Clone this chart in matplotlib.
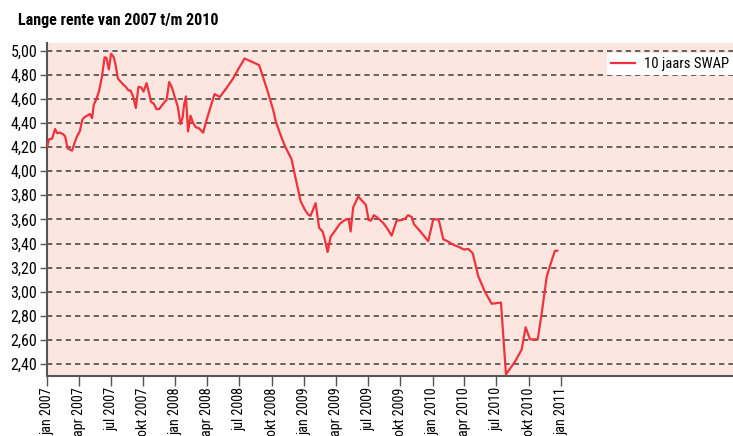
import numpy as np
import pandas as pd
import matplotlib
matplotlib.use('Agg')
import matplotlib.pyplot as plt
from matplotlib import font_manager
from matplotlib.ticker import FuncFormatter

# smalle letter als die er is
namen = {f.name for f in font_manager.fontManager.ttflist}
smal = [n for n in ['Liberation Sans Narrow', 'Roboto Condensed', 'Open Sans Condensed'] if n in namen]
plt.rcParams['font.family'] = smal + ['DejaVu Sans']
plt.rcParams['font.stretch'] = 'condensed'

# 10-jaars swaprente, tijd als decimaal jaartal
jaar = [2007.000, 2007.016, 2007.040, 2007.063, 2007.079, 2007.100, 2007.121, 2007.141,
        2007.160, 2007.178, 2007.195, 2007.216, 2007.234, 2007.255, 2007.276, 2007.294,
        2007.312, 2007.333, 2007.351, 2007.364, 2007.385, 2007.406, 2007.427, 2007.448,
        2007.463, 2007.481, 2007.499, 2007.520, 2007.536, 2007.551, 2007.572, 2007.592,
        2007.613, 2007.634, 2007.650, 2007.670, 2007.691, 2007.712, 2007.733, 2007.751,
        2007.775, 2007.795, 2007.810, 2007.831, 2007.852, 2007.873, 2007.894, 2007.915,
        2007.930, 2007.951, 2007.972, 2007.993, 2008.018, 2008.039, 2008.055, 2008.067,
        2008.081, 2008.098, 2008.117, 2008.137, 2008.158, 2008.184, 2008.215, 2008.246,
        2008.278, 2008.304, 2008.345, 2008.397, 2008.449, 2008.496, 2008.538, 2008.651,
        2008.709, 2008.760, 2008.781, 2008.818, 2008.851, 2008.877, 2008.903, 2008.937,
        2008.974, 2009.007, 2009.033, 2009.051, 2009.072, 2009.090, 2009.118, 2009.145,
        2009.163, 2009.184, 2009.207, 2009.241, 2009.280, 2009.318, 2009.347, 2009.363,
        2009.383, 2009.422, 2009.482, 2009.503, 2009.521, 2009.544, 2009.578, 2009.617,
        2009.648, 2009.682, 2009.721, 2009.760, 2009.786, 2009.811, 2009.838, 2009.856,
        2009.902, 2009.967, 2010.006, 2010.048, 2010.084, 2010.115, 2010.162, 2010.208,
        2010.245, 2010.278, 2010.313, 2010.356, 2010.408, 2010.461, 2010.533, 2010.572,
        2010.642, 2010.694, 2010.725, 2010.759, 2010.819, 2010.850, 2010.889, 2010.928,
        2010.953, 2010.971]
swap = [4.20, 4.265, 4.27, 4.35, 4.315, 4.32, 4.31, 4.29,
        4.19, 4.18, 4.17, 4.24, 4.29, 4.33, 4.43, 4.45,
        4.46, 4.475, 4.44, 4.55, 4.60, 4.67, 4.78, 4.945,
        4.94, 4.845, 4.975, 4.945, 4.87, 4.77, 4.745, 4.72,
        4.70, 4.67, 4.67, 4.62, 4.525, 4.70, 4.695, 4.66,
        4.73, 4.645, 4.575, 4.56, 4.515, 4.515, 4.545, 4.575,
        4.59, 4.74, 4.695, 4.62, 4.535, 4.39, 4.445, 4.55,
        4.62, 4.33, 4.46, 4.40, 4.365, 4.355, 4.32, 4.44,
        4.55, 4.64, 4.615, 4.69, 4.77, 4.86, 4.935, 4.88,
        4.69, 4.51, 4.41, 4.30, 4.21, 4.155, 4.10, 3.93,
        3.75, 3.68, 3.64, 3.63, 3.685, 3.735, 3.53, 3.50,
        3.43, 3.33, 3.455, 3.505, 3.565, 3.595, 3.605, 3.50,
        3.70, 3.79, 3.72, 3.595, 3.59, 3.635, 3.61, 3.57,
        3.525, 3.465, 3.59, 3.595, 3.605, 3.635, 3.62, 3.56,
        3.505, 3.42, 3.60, 3.60, 3.435, 3.42, 3.39, 3.37,
        3.35, 3.355, 3.32, 3.13, 3.00, 2.90, 2.91, 2.315,
        2.42, 2.52, 2.705, 2.605, 2.605, 2.82, 3.125, 3.26,
        3.34, 3.34]

tick_labels = ['jan 2007', 'apr 2007', 'jul 2007', 'okt 2007',
               'jan 2008', 'apr 2008', 'jul 2008', 'okt 2008',
               'jan 2009', 'apr 2009', 'jul 2009', 'okt 2009',
               'jan 2010', 'apr 2010', 'jul 2010', 'okt 2010',
               'jan 2011']
y_ticks = [2.4, 2.6, 2.8, 3.0, 3.2, 3.4, 3.6, 3.8, 4.0, 4.2, 4.4, 4.6, 4.8, 5.0]

start = pd.Timestamp('2007-01-01')
jaar = np.array(jaar)
datums = start + pd.to_timedelta((jaar - 2007) * 365.25, unit='D')
tick_pos = pd.date_range('2007-01-01', '2011-01-01', freq='QS')

fig = plt.figure(figsize=(7.33, 4.36), dpi=100)
ax = fig.add_axes([47 / 733, 60.5 / 436, 686 / 733, 332.8 / 436])
ax.set_facecolor('#fde6df')

for y in y_ticks:
    ax.axhline(y, color='#4a4a4a', lw=1.2, ls=(0, (3.2, 2.4)), zorder=1)

ax.plot(datums, swap, color='#f0323c', lw=1.6, label='10 jaars SWAP', zorder=3)

ax.set_ylim(2.305, 5.066)
ax.set_xlim(start, start + pd.Timedelta(days=1950))
ax.set_yticks(y_ticks)
ax.yaxis.set_major_formatter(FuncFormatter(lambda v, p: f'{v:.2f}'.replace('.', ',')))
ax.set_xticks(tick_pos)
ax.set_xticklabels(tick_labels, rotation=90, va='top', ha='center')

for s in ['top', 'right']:
    ax.spines[s].set_visible(False)
for s in ['left', 'bottom']:
    ax.spines[s].set_color('#555555')
    ax.spines[s].set_linewidth(1.5)

ax.tick_params(axis='y', direction='out', length=5, width=1, color='#555555',
               labelsize=11.5, pad=2)
ax.tick_params(axis='x', direction='out', length=7, width=1, color='#555555',
               labelsize=10.2, pad=1.5)

leg = ax.legend(loc='upper right', bbox_to_anchor=(1.0, 0.97), frameon=True,
                fancybox=False, framealpha=1, edgecolor='white', fontsize=10.5,
                handlelength=1.6, handletextpad=0.6, borderpad=0.3, borderaxespad=0)
leg.get_frame().set_linewidth(0)

fig.text(18 / 733, 1 - 20 / 436, 'Lange rente van 2007 t/m 2010', fontsize=11.5,
         fontweight='bold', va='center', ha='left')

fig.savefig('out.png', dpi=100)
